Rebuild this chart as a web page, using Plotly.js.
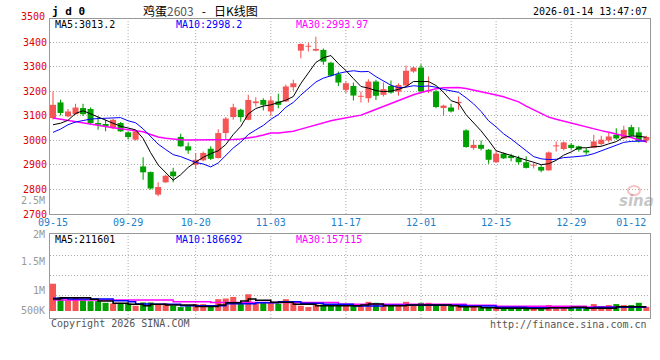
<!DOCTYPE html>
<html><head><meta charset="utf-8">
<script src="https://cdn.plot.ly/plotly-3.0.1.min.js"></script>
<style>html,body{margin:0;padding:0;background:#fff}#chart{width:660px;height:360px}</style>
</head><body><div id="chart"></div>
<script>
// ---- data ----
const dates = ['09-15','09-16','09-17','09-18','09-19','09-22','09-23','09-24','09-25','09-26','09-29','09-30',
 '10-09','10-10','10-13','10-14','10-15','10-16','10-17','10-20','10-21','10-22','10-23','10-24','10-27','10-28','10-29','10-30','10-31',
 '11-03','11-04','11-05','11-06','11-07','11-10','11-11','11-12','11-13','11-14','11-17','11-18','11-19','11-20','11-21','11-24','11-25','11-26','11-27','11-28',
 '12-01','12-02','12-03','12-04','12-05','12-08','12-09','12-10','12-11','12-12','12-15','12-16','12-17','12-18','12-19','12-22','12-23','12-24','12-25','12-26','12-29','12-30','12-31',
 '01-05','01-06','01-07','01-08','01-09','01-12','01-13','01-14'];
const openP = [3091,3155,3098,3107,3132,3128,3071,3067,3050,3071,3033,3003,2894,2871,2779,2829,2873,3014,2976,2901,
 2919,2966,2928,3030,3095,3125,3084,3152,3165,3118,3159,3159,3217,3366,3382,3366,3369,3317,3270,3206,
 3222,3178,3172,3240,3186,3222,3199,3224,3281,3297,3200,3200,3132,3134,3152,3041,2969,2982,2962,2911,
 2946,2938,2928,2911,2897,2892,2878,2976,2965,2982,2976,2959,2970,2985,3000,3023,3008,3054,3033,3000];
const highP = [3200,3166,3128,3149,3149,3134,3098,3084,3088,3075,3037,3043,2931,2873,2829,2860,2889,3027,2992,2949,
 2955,2976,3046,3095,3149,3129,3186,3176,3172,3179,3190,3228,3247,3396,3398,3423,3375,3321,3281,3240,
 3236,3199,3249,3247,3236,3244,3233,3305,3301,3311,3261,3206,3145,3149,3179,3046,3003,3000,2965,2959,
 2951,2946,2938,2935,2911,2901,2955,2996,2996,2989,2978,2969,3023,3019,3030,3050,3060,3064,3054,3019];
const lowP = [3085,3102,3094,3104,3100,3064,3044,3037,3046,3035,3004,3000,2840,2800,2772,2827,2829,2974,2946,2883,
 2915,2920,2926,3003,3084,3076,3082,3138,3122,3100,3131,3157,3203,3335,3362,3364,3308,3260,3222,3192,
 3163,3155,3155,3165,3179,3190,3182,3222,3276,3192,3193,3131,3100,3114,3125,2970,2962,2959,2905,2909,
 2924,2915,2901,2886,2886,2870,2876,2955,2959,2962,2955,2942,2968,2978,2992,3003,3006,3016,2992,2989];
const closeP = [3145,3112,3118,3134,3107,3071,3064,3056,3084,3037,3014,3037,2870,2804,2810,2856,2854,2976,2959,2921,
 2949,2925,3030,3089,3135,3095,3165,3159,3145,3163,3145,3220,3233,3393,3386,3373,3321,3264,3236,3233,
 3183,3182,3240,3182,3209,3195,3226,3284,3297,3200,3204,3136,3142,3118,3157,2973,2982,2966,2921,2946,
 2927,2928,2911,2888,2900,2877,2951,2978,2992,2969,2962,2951,2996,3003,3016,3008,3043,3019,2997,3014];
const ma5 = [3064,3070,3082,3110,3121,3108,3095,3080,3070,3058,3049,3043,3008,2950,2900,2868,2838,2860,2890,2912,
 2931,2946,2958,2983,3024,3057,3108,3130,3140,3145,3154,3164,3179,3232,3275,3318,3337,3346,3313,3285,
 3252,3220,3213,3203,3199,3201,3208,3219,3240,3239,3240,3224,3196,3162,3152,3105,3074,3039,3000,2958,
 2948,2938,2927,2920,2911,2901,2905,2919,2940,2953,2970,2970,2974,2976,2986,2995,3013,3018,3017,3013];
const ma10 = [3033,3046,3064,3075,3081,3087,3089,3091,3091,3093,3080,3072,3047,3014,2985,2963,2942,2934,2922,2910,
 2904,2892,2908,2937,2969,2993,3024,3043,3061,3086,3105,3135,3155,3185,3210,3238,3254,3264,3273,3280,
 3284,3280,3281,3260,3242,3225,3215,3217,3223,3220,3222,3217,3208,3201,3196,3174,3149,3118,3080,3055,
 3027,3006,2983,2960,2934,2925,2922,2923,2930,2932,2936,2938,2946,2958,2970,2983,2992,2996,2996,2998];
const ma30 = [3091,3086,3080,3074,3069,3064,3059,3055,3052,3048,3044,3040,3035,3024,3014,3009,3005,3003,3002,3002,
 3002,3002,3002,3003,3004,3006,3010,3015,3022,3030,3030,3033,3037,3046,3055,3065,3073,3080,3086,3092,
 3098,3103,3115,3127,3141,3152,3164,3175,3186,3195,3204,3211,3215,3216,3216,3212,3206,3200,3192,3185,
 3178,3168,3157,3140,3124,3108,3095,3086,3078,3069,3061,3054,3046,3040,3033,3027,3021,3012,3002,2994];
const volume = [900000,465000,358000,433000,358000,325000,325000,270000,250000,250000,
 250000,173000,282000,282000,217000,250000,173000,130000,163000,228000,
 228000,163000,390000,412000,465000,282000,553000,282000,282000,282000,
 250000,390000,282000,173000,130000,217000,217000,195000,195000,173000,
 173000,173000,303000,270000,173000,173000,173000,303000,173000,270000,
 270000,195000,195000,173000,173000,140000,173000,120000,120000,120000,
 120000,88000,120000,120000,120000,120000,195000,140000,140000,140000,
 120000,120000,228000,163000,195000,228000,195000,195000,270000,140000];
const volMa5 = [400000,439000,439000,439000,439000,386000,330000,330000,254000,254000,
 221000,221000,175000,221000,221000,198000,198000,198000,198000,150000,
 150000,150000,198000,274000,274000,330000,396000,353000,353000,287000,
 287000,287000,221000,221000,221000,175000,175000,175000,175000,175000,
 175000,200000,231000,231000,175000,175000,175000,200000,200000,200000,
 200000,200000,200000,175000,142000,142000,142000,109000,109000,89000,
 89000,89000,89000,80000,80000,80000,109000,109000,109000,120000,
 120000,89000,89000,89000,89000,142000,142000,142000,142000,142000];
const volMa10 = [419000,419000,396000,396000,396000,396000,396000,396000,340000,340000,
 307000,231000,231000,221000,221000,221000,221000,175000,175000,175000,
 175000,175000,175000,241000,241000,241000,241000,274000,274000,274000,
 307000,307000,307000,254000,254000,254000,221000,221000,221000,221000,
 165000,165000,165000,165000,188000,188000,188000,188000,188000,188000,
 188000,188000,188000,188000,188000,165000,165000,165000,165000,122000,
 122000,122000,122000,109000,109000,109000,109000,109000,109000,109000,
 109000,109000,122000,122000,122000,122000,122000,122000,122000,122000];
const volMa30 = [363000,363000,363000,363000,363000,363000,363000,363000,363000,363000,
 363000,363000,363000,363000,363000,363000,307000,307000,307000,307000,
 307000,280000,280000,280000,280000,280000,280000,280000,280000,280000,
 280000,280000,280000,280000,280000,280000,280000,280000,221000,221000,
 221000,221000,221000,221000,221000,221000,221000,221000,221000,221000,
 221000,221000,221000,221000,221000,188000,188000,188000,188000,155000,
 155000,155000,155000,155000,155000,155000,155000,155000,155000,155000,
 155000,132000,132000,132000,132000,132000,132000,132000,132000,132000];
const labelDates = ['09-15','09-29','10-20','11-03','11-17','12-01','12-15','12-29','01-12'];
const gridDates = ['09-29','10-20','11-03','11-17','12-01','12-15','12-29'];
const priceTicks = [2700,2800,2900,3000,3100,3200,3300,3400];
const volTickText = ['2.5M','2M','1.5M','1M','500K'];
const headerMA = {ma5:'MA5:3013.2', ma10:'MA10:2998.2', ma30:'MA30:2993.97'};
const volHeaderMA = {ma5:'MA5:211601', ma10:'MA10:186692', ma30:'MA30:157115'};

// ---- styles ----
const RED = '#f65555', GREEN = '#00a000';
const C5 = '#000000', C10 = '#0000ff', C30 = '#ff00ff';
const GRID = '#aaaaaa', AX = '#999999';
const MONO = 'DejaVu Sans Mono';

const idx = dates.map((d, i) => i);
const up = closeP.map((c, i) => c >= openP[i]);
const candleColor = up.map(u => u ? RED : GREEN);
const XR = [-0.4, 79.49];

const traces = [
  {type:'bar', x:idx, base:lowP, y:highP.map((h,i)=>h-lowP[i]), width:0.14,
   marker:{color:candleColor, line:{width:0}}, xaxis:'x', yaxis:'y', hoverinfo:'skip'},
  {type:'bar', x:idx, base:openP.map((o,i)=>Math.min(o,closeP[i])),
   y:openP.map((o,i)=>Math.max(Math.abs(closeP[i]-o),4)), width:0.8,
   marker:{color:candleColor, line:{width:0}}, xaxis:'x', yaxis:'y', hoverinfo:'skip'},
  {type:'scatter', mode:'lines', x:idx, y:ma30, line:{color:C30, width:1.5}, xaxis:'x', yaxis:'y'},
  {type:'scatter', mode:'lines', x:idx, y:ma10, line:{color:C10, width:1}, xaxis:'x', yaxis:'y'},
  {type:'scatter', mode:'lines', x:idx, y:ma5, line:{color:C5, width:1}, xaxis:'x', yaxis:'y'},
  {type:'bar', x:idx, y:volume, width:0.8, marker:{color:candleColor, line:{width:0}}, xaxis:'x2', yaxis:'y2'},
  {type:'scatter', mode:'lines', x:idx, y:volMa30, line:{color:C30, width:1.5, shape:'hv'}, xaxis:'x2', yaxis:'y2'},
  {type:'scatter', mode:'lines', x:idx, y:volMa10, line:{color:C10, width:1.5, shape:'hv'}, xaxis:'x2', yaxis:'y2'},
  {type:'scatter', mode:'lines', x:idx, y:volMa5, line:{color:C5, width:1.5, shape:'hv'}, xaxis:'x2', yaxis:'y2'}
];

// paper coordinate helpers (plot area 50..650 x 19..318 px)
const px = v => (v - 50) / 600;
const py = v => (318 - v) / 299;

const shapes = [];
gridDates.forEach(d => {
  const i = dates.indexOf(d);
  shapes.push({type:'line', xref:'x', yref:'y domain', x0:i, x1:i, y0:0, y1:1, layer:'below',
    line:{color:GRID, width:1, dash:'1px,2px'}});
  shapes.push({type:'line', xref:'x2', yref:'y2 domain', x0:i, x1:i, y0:0, y1:1, layer:'below',
    line:{color:GRID, width:1, dash:'1px,2px'}});
});
// little "eye" of the sina watermark
shapes.push({type:'circle', xref:'paper', yref:'paper', x0:px(628), x1:px(640), y0:py(195), y1:py(186),
  line:{color:'rgba(240,120,120,0.45)', width:2}, fillcolor:'rgba(0,0,0,0)'});

function txt(text, x, y, color, opts) {
  return Object.assign({text:text, xref:'paper', yref:'paper', x:x, y:y, showarrow:false, borderpad:0,
    xanchor:'left', yanchor:'middle', font:{family:MONO, size:10, color:color}}, opts || {});
}
const NB = '\u00a0';
const volLabelY = [200.7, 234, 261, 290.5, 310.5];
const annotations = [
  txt('j d 0', px(51), py(11), '#000', {font:{family:MONO, size:11, color:'#000', weight:'bold'}}),
  txt('鸡蛋<span style="color:#555">2603</span>' + NB + NB + NB + '-' + NB + NB + NB + '日K线图', px(200), py(10), '#000',
      {xanchor:'center', font:{family:'Noto Sans CJK SC', size:12, color:'#000'}}),
  txt('2026-01-14 13:47:07', px(648), py(11.5), '#000', {xanchor:'right'}),
  txt('3500', px(46), py(16.3), '#e00000', {xanchor:'right'}),
  txt(headerMA.ma5, px(54), py(24.5), C5),
  txt(headerMA.ma10, px(175), py(24.5), C10),
  txt(headerMA.ma30, px(295), py(24.5), C30),
  txt(volHeaderMA.ma5, px(54), py(239), C5),
  txt(volHeaderMA.ma10, px(175), py(239), C10),
  txt(volHeaderMA.ma30, px(295), py(239), C30),
  txt('Copyright 2026 SINA.COM', px(50), py(323.5), '#555'),
  txt('http://finance.sina.com.cn', px(648), py(324), '#555', {xanchor:'right'}),
  txt('<b><i>sina</i></b>', px(636), py(201), 'rgba(150,150,150,0.55)',
      {xanchor:'center', font:{family:'DejaVu Sans', size:15, color:'rgba(150,150,150,0.55)'}})
];
volTickText.forEach((t, k) => annotations.push(txt(t, px(46), py(volLabelY[k]), '#999', {xanchor:'right'})));

const layout = {
  width:660, height:360, margin:{l:50, r:10, t:19, b:42, pad:0},
  paper_bgcolor:'#fff', plot_bgcolor:'#fff', showlegend:false, barmode:'overlay',
  font:{family:MONO, size:10, color:'#000'},
  xaxis:{domain:[0,1], anchor:'y', range:XR, tickmode:'array',
    tickvals:labelDates.map(d => dates.indexOf(d)), ticktext:labelDates,
    showgrid:false, zeroline:false, showline:true, mirror:true, linecolor:AX, linewidth:1,
    ticks:'', ticklabelstandoff:-1, tickfont:{family:MONO, size:10, color:'#1b7fcc'}, fixedrange:true},
  yaxis:{domain:[0.3478,1], anchor:'x', range:[2700,3495], tickmode:'array', tickvals:priceTicks,
    showgrid:true, gridcolor:GRID, gridwidth:1, griddash:'1px,2px', zeroline:false,
    showline:true, mirror:true, linecolor:AX, linewidth:1, ticks:'',
    tickfont:{family:MONO, size:10, color:'#e00000'}},
  xaxis2:{domain:[0,1], anchor:'y2', range:XR, showticklabels:false, showgrid:false, zeroline:false,
    showline:true, mirror:true, linecolor:AX, linewidth:1, ticks:''},
  yaxis2:{domain:[0,0.2799], anchor:'x2', range:[-231000,2531000], tickmode:'array',
    tickvals:[505000,1165000,1825000], showticklabels:false,
    showgrid:true, gridcolor:GRID, gridwidth:1, griddash:'1px,2px', zeroline:false,
    showline:true, mirror:true, linecolor:AX, linewidth:1, ticks:''},
  shapes:shapes, annotations:annotations
};
Plotly.newPlot('chart', traces, layout, {staticPlot:true, displayModeBar:false});
</script></body></html>
